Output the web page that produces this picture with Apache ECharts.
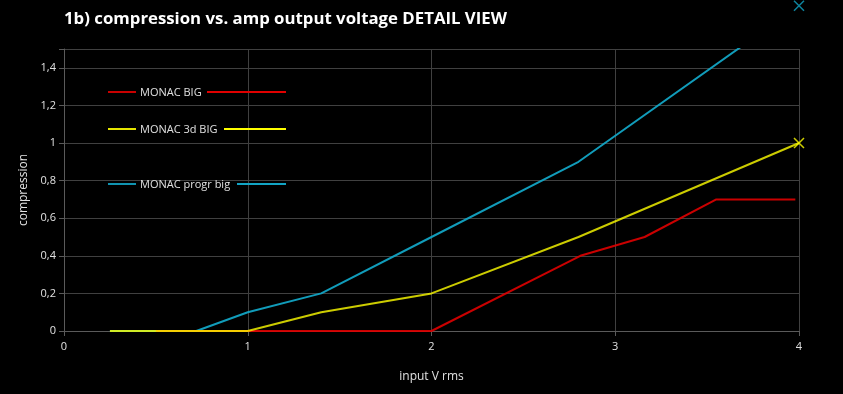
<!DOCTYPE html>
<html><head><meta charset="utf-8">
<script src="https://cdn.jsdelivr.net/npm/echarts@6/dist/echarts.min.js"></script>
<style>html,body{margin:0;padding:0;background:#000}#c{width:843px;height:394px}</style>
</head><body><div id="c"></div>
<script>
const titleText = '1b) compression vs. amp output voltage DETAIL VIEW';
const xName = 'input V rms';
const yName = 'compression';
const seriesNames = ['MONAC BIG', 'MONAC 3d BIG', 'MONAC progr big'];
const seriesColors = ['#e00000', '#ffff00', '#12a4c4'];
const bigX = [0.5, 1, 2, 2.81, 3.16, 3.55, 3.98];
const bigY = [0, 0, 0, 0.40, 0.50, 0.70, 0.70];
const big3dX = [0.25, 1, 1.4, 2, 2.8, 4];
const big3dY = [0, 0, 0.1, 0.2, 0.5, 1.0];
const progrX = [0.25, 0.72, 1, 1.4, 2, 2.8, 4];
const progrY = [0, 0, 0.1, 0.2, 0.5, 0.9, 1.73];

const pairs = (xs, ys) => xs.map((x, i) => [x, ys[i]]);
const xMark = 'path://M0,0L10,10M10,0L0,10';

const chart = echarts.init(document.getElementById('c'), null, {renderer: 'canvas'});
const font = '"Open Sans", "Noto Sans", sans-serif';
const legendY = [92, 129, 184];
const zOrder = [3, 4, 2];
const opac = [0.9, 0.8, 0.95];

const lineSeries = [pairs(bigX, bigY), pairs(big3dX, big3dY), pairs(progrX, progrY)].map((d, i) => ({
  name: seriesNames[i], type: 'line', data: d, showSymbol: false, symbol: 'none',
  lineStyle: {color: seriesColors[i], width: 2, opacity: opac[i]}, itemStyle: {color: seriesColors[i]},
  clip: true, z: zOrder[i]
}));
const endMarks = [
  {data: [[big3dX[big3dX.length - 1], big3dY[big3dY.length - 1]]], color: seriesColors[1]},
  {data: [[progrX[progrX.length - 1], progrY[progrY.length - 1]]], color: seriesColors[2]}
].map(m => ({
  type: 'scatter', data: m.data, symbol: xMark, symbolSize: 10, clip: false, silent: true,
  itemStyle: {color: 'none', borderColor: m.color, borderWidth: 1.5}, z: 6
}));

// legend drawn as graphic: left line, name, right line
const legendGraphics = [];
seriesNames.forEach((n, i) => {
  legendGraphics.push({type: 'line', shape: {x1: 108, y1: legendY[i], x2: 136, y2: legendY[i]},
    style: {stroke: seriesColors[i], lineWidth: 1.8}, z: 10});
  legendGraphics.push({type: 'text', x: 140, y: legendY[i] + 1,
    style: {text: n, fill: '#e0e0e0', font: '11px ' + font, verticalAlign: 'middle'}, z: 10});
});
const rightStarts = [207, 224, 237];
rightStarts.forEach((s, i) => {
  legendGraphics.push({type: 'line', shape: {x1: s, y1: legendY[i], x2: 286, y2: legendY[i]},
    style: {stroke: seriesColors[i], lineWidth: 1.8}, z: 10});
});

chart.setOption({
  backgroundColor: '#000000',
  animation: false,
  title: {text: titleText, left: 59, top: 6,
    textStyle: {color: '#ffffff', fontFamily: font, fontWeight: 'bold', fontSize: 16.8}},
  graphic: legendGraphics,
  grid: {left: 64, right: 44, top: 49, bottom: 63, containLabel: false},
  xAxis: {type: 'value', min: 0, max: 4, interval: 1,
    name: xName, nameLocation: 'middle', nameGap: 40,
    nameTextStyle: {color: '#e0e0e0', fontFamily: font, fontSize: 12},
    axisLine: {show: true, lineStyle: {color: '#5a5a5a'}},
    axisTick: {show: true, length: 5, lineStyle: {color: '#5a5a5a'}},
    axisLabel: {color: '#e0e0e0', fontFamily: font, fontSize: 11, margin: 10},
    splitLine: {show: true, lineStyle: {color: '#404040'}}},
  yAxis: {type: 'value', min: 0, max: 1.5, interval: 0.2,
    name: yName, nameLocation: 'middle', nameGap: 33,
    nameTextStyle: {color: '#e0e0e0', fontFamily: font, fontSize: 12},
    axisLine: {show: true, lineStyle: {color: '#5a5a5a'}},
    axisTick: {show: true, length: 5, lineStyle: {color: '#5a5a5a'}},
    axisLabel: {color: '#e0e0e0', fontFamily: font, fontSize: 11, margin: 8,
      formatter: v => (Math.abs(v - 1.5) < 1e-9 ? '' : String(Math.round(v * 10) / 10).replace('.', ','))},
    splitLine: {show: true, lineStyle: {color: '#404040'}}},
  series: lineSeries.concat(endMarks)
});
</script></body></html>
